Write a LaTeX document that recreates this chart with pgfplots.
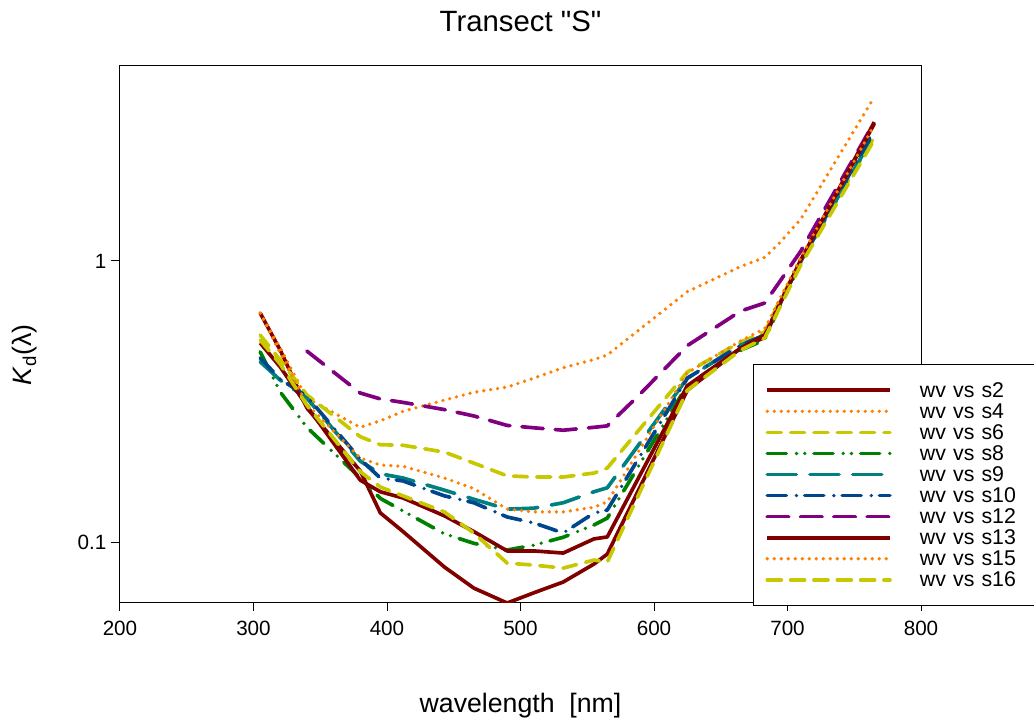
\documentclass[border=0pt]{standalone}
\usepackage{fontspec}
\setmainfont{Liberation Sans}[Ligatures=TeXOff]
\usepackage{pgfplots}
\pgfplotsset{compat=1.18}

\definecolor{cbrown}{RGB}{128,0,0}
\definecolor{corange}{RGB}{255,128,0}
\definecolor{cyellow}{RGB}{200,200,0}
\definecolor{cgreen}{RGB}{0,128,0}
\definecolor{cteal}{RGB}{0,128,128}
\definecolor{cblue}{RGB}{0,70,140}
\definecolor{cpurple}{RGB}{128,0,128}

\begin{document}
\begin{tikzpicture}
\path[use as bounding box] (-90pt,-90pt) rectangle (685.5pt,451.5pt);
\begin{axis}[
  at={(0pt,0pt)}, anchor=south west,
  scale only axis, width=600.75pt, height=402.75pt,
  xmin=200, xmax=800,
  ymode=log, ymin=0.0612, ymax=4.98,
  axis line style={line width=0.75pt},
  tick style={line width=0.75pt, black},
  tick align=outside, tick pos=left,
  major tick length=6.75pt,
  xtick={200,300,400,500,600,700,800},
  xticklabels={200,300,400,500,600,700,800},
  ytick={0.1,1}, yticklabels={0.1,1},
  minor tick num=0, minor y tick num=0,
  yminorticks=false,
  ticklabel style={font=\fontsize{15.5}{18}\selectfont},
  xticklabel style={yshift=-4pt},
  title={Transect "S"},
  title style={at={(axis description cs:0.5,1.067)}, anchor=center, font=\fontsize{22}{26}\selectfont},
  xlabel={wavelength\ \ [nm]},
  xlabel style={at={(axis description cs:0.5,-0.192)}, anchor=center, font=\fontsize{20}{24}\selectfont},
  ylabel={\textit{K}\textsubscript{d}(λ)},
  ylabel style={at={(axis description cs:-0.1186,0.46)}, anchor=center, rotate=0, font=\fontsize{20}{24}\selectfont},
  every axis plot/.append style={line width=2.75pt, line join=round},
  legend image code/.code={
    \path[draw=none,fill=none] (-10.5pt,0pt) -- (114.5pt,0pt);
    \draw[#1] (0pt,0pt) -- (92pt,0pt);
  },
  legend style={
    at={(axis description cs:0.790,0.4432)}, anchor=north west,
    draw=black, line width=0.75pt, fill=white,
    inner xsep=0pt, inner ysep=11.4pt,
    row sep=0pt, column sep=0pt,
    font=\fontsize{16}{18}\selectfont,
    nodes={inner sep=0pt, text height=13pt, text depth=2.8pt, text width=100pt, align=left, anchor=west},
  },
]
% s2
\addplot[color=cbrown, solid] coordinates {
(305,0.653) (320,0.482) (340,0.300) (380,0.179) (395,0.127) (412,0.109) (443,0.0815) (465,0.0686) (490,0.0607) (510,0.0660) (532,0.0721) (555,0.0835) (565,0.0906) (625,0.347) (665,0.490) (683,0.535) (694,0.700) (710,1.00) (765,3.12)};
\addlegendentry{wv vs s2}
% s4
\addplot[color=corange, line cap=round, dash pattern=on 0pt off 5.25pt] coordinates {
(305,0.653) (320,0.49) (340,0.325) (380,0.256) (395,0.270) (412,0.292) (443,0.320) (465,0.341) (490,0.356) (510,0.383) (532,0.417) (555,0.446) (565,0.463) (625,0.778) (665,0.956) (683,1.03) (694,1.159) (710,1.41) (765,3.83)};
\addlegendentry{wv vs s4}
% s6
\addplot[color=cyellow, line cap=round, dash pattern=on 10.5pt off 7pt] coordinates {
(305,0.545) (320,0.444) (340,0.334) (380,0.237) (395,0.222) (412,0.221) (443,0.209) (465,0.191) (490,0.172) (510,0.1704) (532,0.1704) (555,0.176) (565,0.1834) (625,0.403) (665,0.515) (683,0.559) (694,0.72) (710,1.0) (765,2.76)};
\addlegendentry{wv vs s6}
% s8
\addplot[color=cgreen, line cap=round, dash pattern=on 14.3pt off 7.6pt on 0pt off 6.25pt on 0pt off 6.85pt] coordinates {
(305,0.475) (320,0.342) (340,0.256) (380,0.169) (395,0.143) (412,0.129) (443,0.107) (465,0.099) (490,0.0937) (510,0.0975) (532,0.104) (555,0.115) (565,0.1217) (625,0.362) (665,0.482) (683,0.524) (694,0.69) (710,0.99) (765,2.88)};
\addlegendentry{wv vs s8}
% s9
\addplot[color=cteal, line cap=round, dash pattern=on 21.8pt off 10.25pt] coordinates {
(305,0.438) (320,0.377) (340,0.325) (380,0.194) (395,0.175) (412,0.169) (443,0.153) (465,0.142) (490,0.131) (510,0.132) (532,0.138) (555,0.151) (565,0.156) (625,0.383) (665,0.502) (683,0.545) (694,0.70) (710,1.0) (765,2.81)};
\addlegendentry{wv vs s9}
% s10
\addplot[color=cblue, line cap=round, dash pattern=on 14.3pt off 7.6pt on 0pt off 6.15pt] coordinates {
(305,0.452) (320,0.38) (340,0.33) (380,0.197) (395,0.169) (412,0.165) (443,0.146) (465,0.138) (490,0.1228) (510,0.117) (532,0.1077) (555,0.1268) (565,0.130) (625,0.383) (665,0.502) (683,0.545) (694,0.70) (710,1.0) (765,2.92)};
\addlegendentry{wv vs s10}
% s12
\addplot[color=cpurple, line cap=round, dash pattern=on 16pt off 9pt] coordinates {
(340,0.478) (380,0.339) (395,0.323) (412,0.314) (443,0.296) (465,0.281) (490,0.260) (510,0.255) (532,0.250) (555,0.256) (565,0.259) (589,0.334) (625,0.50) (665,0.664) (683,0.709) (694,0.842) (710,1.085) (765,3.12)};
\addlegendentry{wv vs s12}
% s13
\addplot[color=cbrown, solid] coordinates {
(305,0.511) (320,0.420) (340,0.305) (380,0.166) (395,0.151) (412,0.1435) (443,0.124) (465,0.109) (490,0.093) (510,0.093) (532,0.0914) (555,0.1026) (565,0.1043) (625,0.360) (665,0.490) (683,0.545) (694,0.70) (710,1.01) (765,3.08)};
\addlegendentry{wv vs s13}
% s15
\addplot[color=corange, line cap=round, dash pattern=on 0pt off 5.25pt] coordinates {
(305,0.653) (320,0.47) (340,0.31) (380,0.199) (395,0.188) (412,0.186) (443,0.169) (465,0.155) (490,0.131) (510,0.128) (532,0.128) (555,0.133) (565,0.139) (625,0.40) (665,0.52) (683,0.575) (694,0.73) (710,1.03) (765,3.05)};
\addlegendentry{wv vs s15}
% s16
\addplot[color=cyellow, line cap=round, dash pattern=on 10.5pt off 7pt] coordinates {
(305,0.523) (320,0.43) (340,0.307) (380,0.178) (395,0.157) (412,0.146) (443,0.128) (465,0.1077) (490,0.0842) (510,0.0828) (532,0.0808) (555,0.0863) (565,0.0849) (625,0.347) (665,0.482) (683,0.532) (694,0.68) (710,0.97) (765,2.70)};
\addlegendentry{wv vs s16}
\end{axis}
\end{tikzpicture}
\end{document}
